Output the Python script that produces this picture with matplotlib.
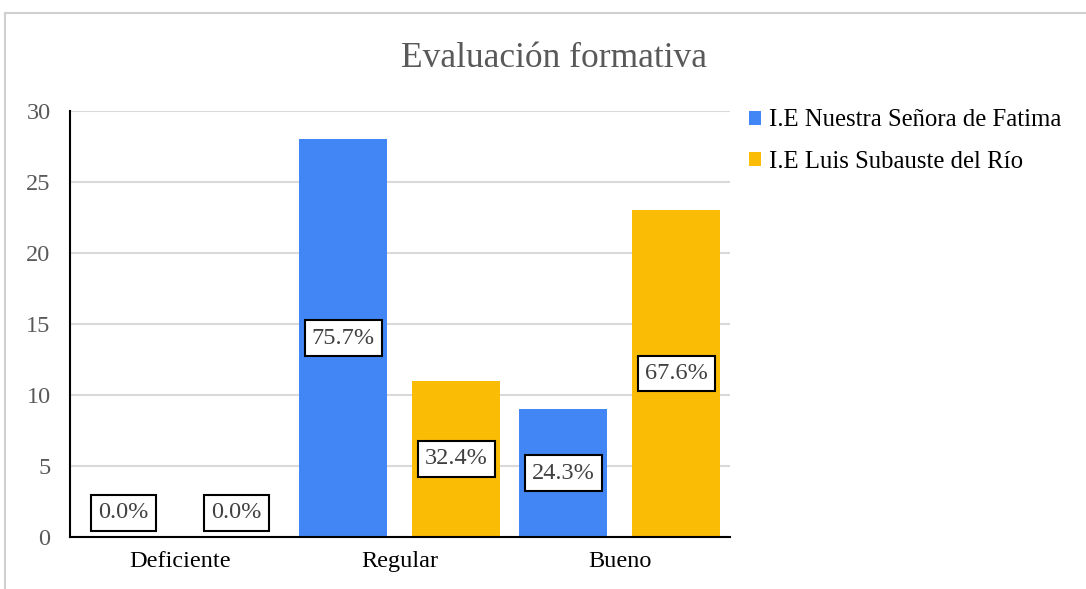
import matplotlib.pyplot as plt
import numpy as np
from matplotlib.lines import Line2D

categorias = ["Deficiente", "Regular", "Bueno"]
fatima = [0, 28, 9]
subauste = [0, 11, 23]
pct_fatima = ["0.0%", "75.7%", "24.3%"]
pct_subauste = ["0.0%", "32.4%", "67.6%"]
series = ["I.E Nuestra Señora de Fatima", "I.E Luis Subauste del Río"]

plt.rcParams['font.family'] = ['Liberation Serif', 'DejaVu Serif']

azul = '#4285F4'
amarillo = '#FABC05'

fig = plt.figure(figsize=(10.86, 5.89), dpi=100)
ax = fig.add_axes([0.0645, 0.0883, 0.6075, 0.7232])

x = np.arange(len(categorias))
off = 0.257
w = 0.4
b1 = ax.bar(x - off, fatima, w, color=azul, label=series[0], zorder=2)
b2 = ax.bar(x + off, subauste, w, color=amarillo, label=series[1], zorder=2)

box = dict(boxstyle='square,pad=0.3', fc='white', ec='black', lw=1.5)
for xs, vals, labs in [(x - off, fatima, pct_fatima), (x + off, subauste, pct_subauste)]:
    for xi, v, t in zip(xs, vals, labs):
        ax.text(xi, max(v / 2, 1.7), t, ha='center', va='center', fontsize=17.5,
                color='#404040', bbox=box, zorder=3)

ax.set_xlim(-0.5, 2.5)
ax.set_ylim(0, 30)
ax.set_yticks(range(0, 31, 5))
ax.set_xticks(x)
ax.set_xticklabels(categorias, fontsize=17.5, color='black')
ax.tick_params(axis='y', length=0, pad=14, labelsize=17.5, labelcolor='#595959')
ax.tick_params(axis='x', length=0, pad=10)
ax.grid(axis='y', color='#D9D9D9', lw=1.5, zorder=0)
for s in ['top', 'right']:
    ax.spines[s].set_visible(False)
ax.spines['left'].set_linewidth(1.5)
ax.spines['bottom'].set_linewidth(1.5)

fig.text(0.51, 0.9, "Evaluación formativa", ha='center', va='center',
         fontsize=25.5, color='#595959')

fig.legend(handles=[b1, b2], labels=series, loc='upper left',
           bbox_to_anchor=(0.669, 0.852), frameon=False, fontsize=17.8,
           handlelength=0.5, handleheight=0.5, handletextpad=0.3,
           labelspacing=0.8)

fig.add_artist(Line2D([5 / 1086, 1], [1 - 13 / 589] * 2, color='#D0D0D0', lw=1.5,
                      transform=fig.transFigure))
fig.add_artist(Line2D([5 / 1086] * 2, [0, 1 - 13 / 589], color='#D0D0D0', lw=1.5,
                      transform=fig.transFigure))

fig.savefig('out.png', dpi=100)
